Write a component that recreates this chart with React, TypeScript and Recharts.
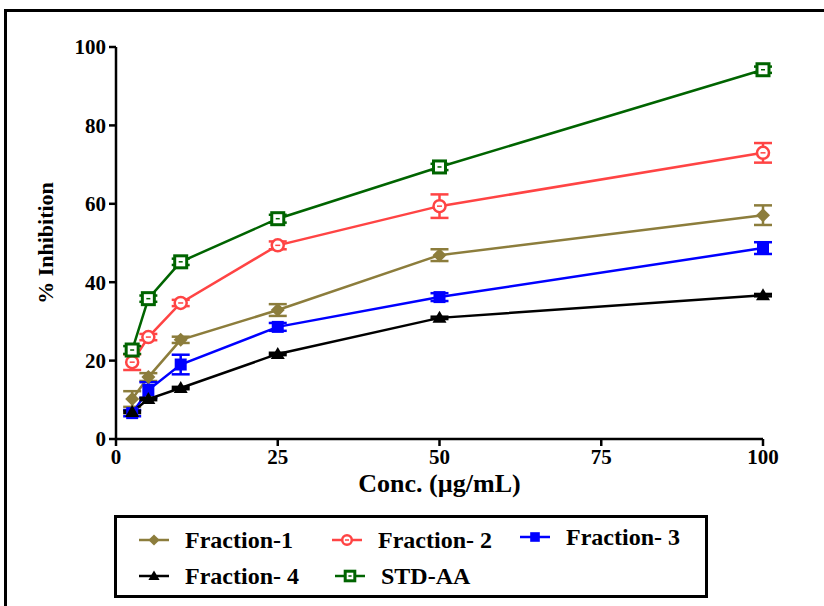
import { LineChart, Line, XAxis, YAxis, ErrorBar } from 'recharts';

const concentrations = [2.5, 5, 10, 25, 50, 100];

const fraction1 = [10.2, 15.8, 25.3, 32.9, 46.9, 57.1];
const fraction1Err = [2, 1, 0.8, 1.5, 1.5, 2.5];
const fraction2 = [19.6, 26.0, 34.7, 49.4, 59.4, 73.0];
const fraction2Err = [2, 0.8, 0.8, 1, 3, 2.5];
const fraction3 = [6.6, 12.5, 19.0, 28.6, 36.2, 48.7];
const fraction3Err = [0.8, 2, 2.5, 1, 1, 1.5];
const fraction4 = [6.9, 10.2, 13.0, 21.7, 30.9, 36.7];
const fraction4Err = [0.3, 0.3, 0.3, 0.3, 0.3, 0.3];
const stdAA = [22.7, 35.8, 45.2, 56.2, 69.4, 94.2];
const stdAAErr = [1, 0.8, 0.8, 1, 0.8, 0.8];

const xTicks = [0, 25, 50, 75, 100];
const yTicks = [0, 20, 40, 60, 80, 100];

type Shape = 'diamond' | 'circle' | 'square' | 'triangle' | 'openSquare';

const seriesDefs: { key: string; name: string; values: number[]; errors: number[]; color: string; shape: Shape }[] = [
  { key: 'f1', name: 'Fraction-1', values: fraction1, errors: fraction1Err, color: '#8c7d3c', shape: 'diamond' },
  { key: 'f2', name: 'Fraction- 2', values: fraction2, errors: fraction2Err, color: '#ff4444', shape: 'circle' },
  { key: 'f3', name: 'Fraction- 3', values: fraction3, errors: fraction3Err, color: '#0000ff', shape: 'square' },
  { key: 'f4', name: 'Fraction- 4', values: fraction4, errors: fraction4Err, color: '#000000', shape: 'triangle' },
  { key: 'std', name: 'STD-AA', values: stdAA, errors: stdAAErr, color: '#006400', shape: 'openSquare' },
];

const data = concentrations.map((c, i) => {
  const row: Record<string, number> = { conc: c };
  for (const s of seriesDefs) {
    row[s.key] = s.values[i];
    row[s.key + 'Err'] = s.errors[i];
  }
  return row;
});

const FONT = '"Liberation Serif", "Times New Roman", serif';

function Marker({ shape, cx, cy, color, k = 1 }: { shape: Shape; cx: number; cy: number; color: string; k?: number }) {
  switch (shape) {
    case 'diamond':
      return (
        <polygon
          points={`${cx},${cy - 7 * k} ${cx + 7 * k},${cy} ${cx},${cy + 7 * k} ${cx - 7 * k},${cy}`}
          fill={color}
        />
      );
    case 'circle':
      return (
        <g>
          <circle cx={cx} cy={cy} r={6 * k} fill="#fff" stroke={color} strokeWidth={2.5} />
          <line x1={cx - 2.5 * k} y1={cy} x2={cx + 2.5 * k} y2={cy} stroke={color} strokeWidth={1.5} />
        </g>
      );
    case 'square':
      return <rect x={cx - 6 * k} y={cy - 6 * k} width={12 * k} height={12 * k} fill={color} />;
    case 'triangle':
      return (
        <polygon
          points={`${cx},${cy - 7 * k} ${cx + 7 * k},${cy + 5 * k} ${cx - 7 * k},${cy + 5 * k}`}
          fill={color}
        />
      );
    case 'openSquare':
      return (
        <g>
          <rect x={cx - 6 * k} y={cy - 6 * k} width={12 * k} height={12 * k} fill="#fff" stroke={color} strokeWidth={3} />
          <line x1={cx - 2 * k} y1={cy} x2={cx + 2 * k} y2={cy} stroke={color} strokeWidth={1.5} />
        </g>
      );
  }
}

function YLabel({ viewBox }: any) {
  const cx = viewBox.x - 11;
  const cy = viewBox.y + viewBox.height / 2;
  return (
    <text
      x={cx}
      y={cy}
      transform={`rotate(-90 ${cx} ${cy})`}
      textAnchor="middle"
      dominantBaseline="central"
      fontFamily={FONT}
      fontWeight="bold"
      fontSize={22}
      fill="#000"
    >
      % Inhibition
    </text>
  );
}

const legendSlots = [
  { left: 22, top: 7 },
  { left: 215, top: 7 },
  { left: 403, top: 4 },
  { left: 22, top: 43 },
  { left: 218, top: 43 },
];

function LegendBox() {
  return (
    <div
      style={{
        position: 'absolute',
        left: 114,
        top: 515,
        width: 588,
        height: 77,
        border: '3px solid #000',
        background: '#fff',
        fontFamily: FONT,
        fontWeight: 'bold',
        fontSize: 24,
      }}
    >
      {seriesDefs.map((s, i) => (
        <div
          key={s.key}
          style={{
            position: 'absolute',
            left: legendSlots[i].left,
            top: legendSlots[i].top,
            height: 30,
            display: 'flex',
            alignItems: 'center',
            whiteSpace: 'nowrap',
          }}
        >
          <svg width={30} height={16} style={{ marginRight: 16 }}>
            <line x1={0} y1={8} x2={30} y2={8} stroke={s.color} strokeWidth={2.5} />
            <Marker shape={s.shape} cx={15} cy={8} color={s.color} k={0.8} />
          </svg>
          <span>{s.name}</span>
        </div>
      ))}
    </div>
  );
}

export default function App() {
  return (
    <div style={{ position: 'absolute', left: 0, top: 0, width: 824, height: 606, overflow: 'hidden', background: '#fff' }}>
      <div
        style={{
          position: 'absolute',
          left: 4,
          top: 9,
          width: 1000,
          height: 1000,
          border: '3px solid #000',
          boxSizing: 'border-box',
        }}
      />
      <div style={{ position: 'absolute', left: 0, top: 0 }}>
        <LineChart
          width={824}
          height={606}
          data={data}
          margin={{ top: 47, right: 61, left: 56, bottom: 137 }}
        >
          <XAxis
            dataKey="conc"
            type="number"
            domain={[0, 100]}
            ticks={xTicks}
            height={30}
            axisLine={{ stroke: '#000', strokeWidth: 2.5 }}
            tickLine={{ stroke: '#000', strokeWidth: 2.5 }}
            tickSize={7}
            tickMargin={3}
            tick={{ fill: '#000', fontFamily: FONT, fontWeight: 'bold', fontSize: 21 }}
            label={{
              value: 'Conc. (µg/mL)',
              position: 'bottom',
              offset: 5,
              fill: '#000',
              fontFamily: FONT,
              fontWeight: 'bold',
              fontSize: 26,
            }}
          />
          <YAxis
            type="number"
            domain={[0, 100]}
            ticks={yTicks}
            width={60}
            axisLine={{ stroke: '#000', strokeWidth: 2.5 }}
            tickLine={{ stroke: '#000', strokeWidth: 2.5 }}
            tickSize={7}
            tickMargin={3}
            tick={{ fill: '#000', fontFamily: FONT, fontWeight: 'bold', fontSize: 21 }}
            label={<YLabel />}
          />
          {seriesDefs.map(s => (
            <Line
              key={s.key}
              dataKey={s.key}
              name={s.name}
              stroke={s.color}
              strokeWidth={2.5}
              type="linear"
              isAnimationActive={false}
              dot={(p: any) => (
                <Marker key={`${s.key}-${p.index}`} shape={s.shape} cx={p.cx} cy={p.cy} color={s.color} />
              )}
              activeDot={false}
            >
              <ErrorBar dataKey={s.key + 'Err'} direction="y" width={9} stroke={s.color} strokeWidth={2.5} />
            </Line>
          ))}
        </LineChart>
      </div>
      <LegendBox />
    </div>
  );
}
